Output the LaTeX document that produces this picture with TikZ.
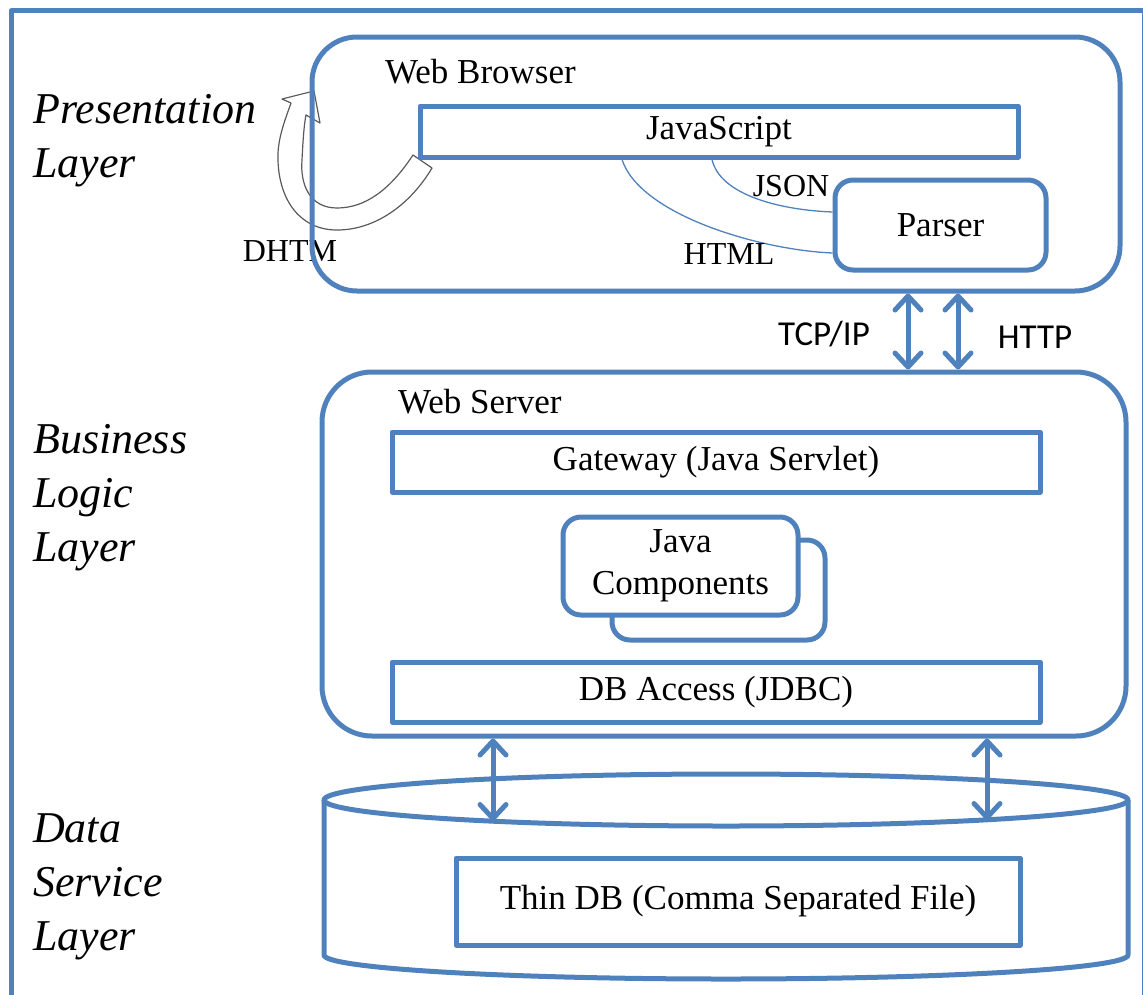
\documentclass[tikz,border=0pt]{standalone}
\usepackage{fontspec}
\setmainfont{Liberation Serif}
\newfontfamily\calibri{Carlito}
\usetikzlibrary{arrows.meta}
\definecolor{frameblue}{HTML}{4F81BD}
\definecolor{arrowgray}{HTML}{5A5A5A}

\begin{document}
\begin{tikzpicture}[x=1pt,y=-1pt,
  line join=round,
  txt/.style={font=\fontsize{35}{42}\selectfont, inner sep=0pt},
  smalltxt/.style={font=\fontsize{32}{38}\selectfont, inner sep=0pt},
  sanstxt/.style={font=\calibri\fontsize{35}{42}\selectfont, inner sep=0pt},
  layer/.style={font=\itshape\fontsize{44}{54}\selectfont, align=left, anchor=west, inner sep=0pt},
  sqbox/.style={draw=frameblue, line width=5pt, inner sep=0pt, font=\fontsize{35}{42}\selectfont},
  rbox/.style={sqbox, rounded corners=#1},
  rbox/.default=18pt,
  link/.style={draw=frameblue, line width=1.3pt},
  dblarrow/.style={draw=frameblue, line width=5pt,
    {Straight Barb[length=14pt,width=26pt,round]}-{Straight Barb[length=14pt,width=26pt,round]}},
  bendarrow/.style={draw=arrowgray, line width=1.2pt, fill=white}
]
\useasboundingbox (0,0) rectangle (1143,994);
\clip (0,0) rectangle (1143,994);

% outer frame
\draw[frameblue, line width=5pt] (11.5,1100) -- (11.5,10.5) -- (1144.5,10.5) -- (1144.5,1100);

% layer titles
\node[layer] (tpres) at (33,141) {Presentation\\Layer};
\node[layer] (tbiz)  at (33,498) {Business\\Logic\\Layer};
\node[layer] (tdata) at (33,887) {Data\\Service\\Layer};

% DHTML loop arrow (hollow block arrow)
\draw[bendarrow] (413,155) .. controls (390,190) and (365,208) .. (337,208)
  .. controls (310,208) and (300,185) .. (302,160)
  .. controls (303,140) and (304,125) .. (306,115)
  -- (320,123) -- (314,91) -- (282,99) -- (291,103)
  .. controls (285,120) and (277,140) .. (278,160)
  .. controls (279,200) and (300,230) .. (337,230)
  .. controls (375,230) and (410,205) .. (432,168) -- cycle;
\node[smalltxt] (dhtm) at (290,251) {DHTM};

% web browser tier
\node[rbox=45pt, minimum width=808pt, minimum height=254pt] (browser) at (716,164) {};
\node[txt, anchor=west] (browserlbl) at (385,72) {Web Browser};
\node[sqbox, minimum width=598pt, minimum height=51pt] (js) at (719,131.5) {JavaScript};
\node[rbox, minimum width=211pt, minimum height=90pt] (parser) at (940.5,225) {Parser};

\coordinate (htmlA) at (622,157);
\coordinate (htmlB) at (833,253);
\coordinate (jsonA) at (712,157);
\coordinate (jsonB) at (833,212);
\draw[link] (htmlA |- js.south) .. controls (640,215) and (760,250) .. (parser.west |- htmlB);
\draw[link] (jsonA |- js.south) .. controls (720,195) and (780,210) .. (parser.west |- jsonB);
\node[smalltxt] (jsonlbl) at (791,186) {JSON};
\node[smalltxt] (htmllbl) at (729,254) {HTML};

% web server tier
\node[rbox=50pt, minimum width=804pt, minimum height=364pt] (server) at (724,554) {};
\node[txt, anchor=west] (serverlbl) at (398,402) {Web Server};
\node[sqbox, minimum width=648pt, minimum height=60pt] (gateway) at (716,462) {Gateway (Java Servlet)};
\node[rbox, minimum width=213pt, minimum height=100pt] (jcback) at (718.5,590) {};
\node[rbox, fill=white, minimum width=235pt, minimum height=98pt, align=center] (jcfront) at (680.5,566) {Java\\Components};
\node[sqbox, minimum width=648pt, minimum height=60pt] (dbaccess) at (716,692) {DB Access (JDBC)};

% browser <-> server links
\coordinate (tcpx) at (908,0);
\coordinate (httpx) at (958,0);
\draw[dblarrow] (tcpx |- browser.south) -- (tcpx |- server.north);
\draw[dblarrow] (httpx |- browser.south) -- (httpx |- server.north);
\node[sanstxt] (tcplbl) at (824,334) {TCP/IP};
\node[sanstxt] (httplbl) at (1035,337) {HTTP};

% data tier (cylinder)
\coordinate (dbtop) at (726,800);
\draw[frameblue, line width=5pt] (dbtop) ellipse [x radius=402pt, y radius=26pt];
\draw[frameblue, line width=5pt] (324,800) -- (324,955)
  arc[start angle=180, end angle=360, x radius=402pt, y radius=24pt] -- (1128,800);
\node[sqbox, minimum width=564pt, minimum height=87pt] (thindb) at (738,901.5) {Thin DB (Comma Separated File)};

% server <-> database links
\coordinate (dbA) at (493,821);
\coordinate (dbB) at (987,820);
\draw[dblarrow] (dbA |- server.south) -- (dbA);
\draw[dblarrow] (dbB |- server.south) -- (dbB);
\end{tikzpicture}
\end{document}
